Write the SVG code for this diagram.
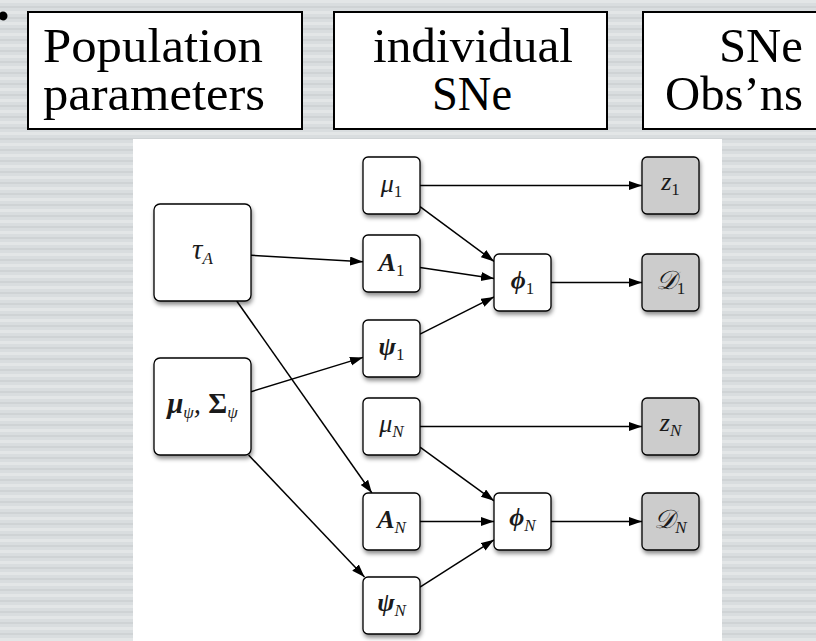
<svg xmlns="http://www.w3.org/2000/svg" width="816" height="641" viewBox="0 0 816 641">
<defs>
<pattern id="stripes" width="816" height="11" patternUnits="userSpaceOnUse">
<rect width="816" height="11" fill="#d9dddf"/>
<rect y="0" width="816" height="3" fill="#e3e6e7"/>
<rect y="6" width="816" height="2" fill="#cfd3d5"/>
</pattern>
<filter id="sh" x="-20%" y="-20%" width="150%" height="150%">
<feDropShadow dx="1" dy="3" stdDeviation="2" flood-color="#000" flood-opacity="0.45"/>
</filter>
<marker id="ah" markerUnits="userSpaceOnUse" markerWidth="14" markerHeight="10" refX="13" refY="4.5" orient="auto">
<path d="M0,0 L13,4.5 L0,9 z" fill="#000"/>
</marker>
</defs>
<style>
.hdr{fill:#fff;stroke:#000;stroke-width:2}
.ht{font-family:'Liberation Serif','Times New Roman',serif;font-size:48px;fill:#000}
.n{fill:#fff;stroke:#000;stroke-width:1.3;filter:url(#sh)}
.o{fill:#cccccc;stroke:#000;stroke-width:1.3;filter:url(#sh)}
.m{font-family:'Liberation Serif','Times New Roman',serif;font-size:26px;font-style:italic;fill:#1a1a1a;text-anchor:middle}
.big{font-size:29px}
.b{font-weight:bold}
.s{font-size:17px;font-style:italic}
.sr{font-size:17px;font-style:normal}
.e{stroke:#000;stroke-width:1.5;fill:none;marker-end:url(#ah)}
</style>
<rect width="816" height="641" fill="url(#stripes)"/>
<circle cx="3" cy="16" r="4.5" fill="#000"/>

<g id="header-population">
<rect class="hdr" x="28" y="12" width="274" height="117"/>
<text class="ht" x="43" y="62" textLength="220" lengthAdjust="spacingAndGlyphs">Population</text>
<text class="ht" x="43" y="110" textLength="222" lengthAdjust="spacingAndGlyphs">parameters</text>
</g>
<g id="header-individual">
<rect class="hdr" x="334" y="12" width="273" height="117"/>
<text class="ht" x="373" y="62" textLength="200" lengthAdjust="spacingAndGlyphs">individual</text>
<text class="ht" x="432" y="110" textLength="80" lengthAdjust="spacingAndGlyphs">SNe</text>
</g>
<g id="header-obs">
<rect class="hdr" x="643" y="12" width="200" height="117"/>
<text class="ht" x="719" y="62" textLength="84" lengthAdjust="spacingAndGlyphs">SNe</text>
<text class="ht" x="665" y="110" textLength="138" lengthAdjust="spacingAndGlyphs">Obs’ns</text>
</g>

<rect x="133" y="139" width="589" height="502" fill="#fff"/>

<g id="connectors">
<line class="e" x1="251" y1="255.3" x2="363" y2="261.8"/>
<line class="e" x1="236.7" y1="301" x2="371.9" y2="493"/>
<line class="e" x1="251" y1="391.7" x2="363" y2="357.4"/>
<line class="e" x1="248.6" y1="455" x2="364.5" y2="577"/>
<line class="e" x1="420" y1="185.5" x2="642" y2="185.5"/>
<line class="e" x1="420" y1="206.6" x2="494" y2="261.4"/>
<line class="e" x1="420" y1="267.6" x2="494" y2="278.4"/>
<line class="e" x1="420" y1="334.1" x2="494" y2="296.9"/>
<line class="e" x1="551" y1="282.5" x2="642" y2="282.5"/>
<line class="e" x1="420" y1="426.5" x2="642" y2="426.5"/>
<line class="e" x1="420" y1="447.2" x2="494" y2="500.8"/>
<line class="e" x1="420" y1="521.5" x2="494" y2="521.5"/>
<line class="e" x1="420" y1="587.2" x2="494" y2="539.8"/>
<line class="e" x1="551" y1="521.5" x2="642" y2="521.5"/>
</g>

<g id="tauA">
<rect class="n" x="154" y="204" width="97" height="97" rx="6"/>
<text class="m big" x="202.5" y="259">τ<tspan class="s" dy="5">A</tspan></text>
</g>
<g id="muSigma">
<rect class="n" x="154" y="358" width="97" height="97" rx="6"/>
<text class="m big" x="202.5" y="413"><tspan class="b">μ</tspan><tspan class="s" dy="5">ψ</tspan><tspan dy="-5">, </tspan><tspan class="b" font-style="normal">Σ</tspan><tspan class="s" dy="5">ψ</tspan></text>
</g>
<g id="mu1">
<rect class="n" x="363" y="157" width="57" height="57" rx="5"/>
<text class="m" x="391.5" y="192">μ<tspan class="sr" dy="5">1</tspan></text>
</g>
<g id="A1">
<rect class="n" x="363" y="235" width="57" height="57" rx="5"/>
<text class="m" x="391.5" y="271"><tspan class="b">A</tspan><tspan class="sr" dy="5">1</tspan></text>
</g>
<g id="psi1">
<rect class="n" x="363" y="320" width="57" height="57" rx="5"/>
<text class="m" x="391.5" y="355"><tspan class="b">ψ</tspan><tspan class="sr" dy="5">1</tspan></text>
</g>
<g id="muN">
<rect class="n" x="363" y="398" width="57" height="57" rx="5"/>
<text class="m" x="391.5" y="432">μ<tspan class="s" dy="5">N</tspan></text>
</g>
<g id="AN">
<rect class="n" x="363" y="493" width="57" height="57" rx="5"/>
<text class="m" x="391.5" y="528"><tspan class="b">A</tspan><tspan class="s" dy="5">N</tspan></text>
</g>
<g id="psiN">
<rect class="n" x="363" y="577" width="57" height="57" rx="5"/>
<text class="m" x="391.5" y="611"><tspan class="b">ψ</tspan><tspan class="s" dy="5">N</tspan></text>
</g>
<g id="phi1">
<rect class="n" x="494" y="254" width="57" height="57" rx="5"/>
<text class="m" x="522.5" y="289"><tspan class="b">ϕ</tspan><tspan class="sr" dy="5">1</tspan></text>
</g>
<g id="phiN">
<rect class="n" x="494" y="493" width="57" height="57" rx="5"/>
<text class="m" x="522.5" y="526"><tspan class="b">ϕ</tspan><tspan class="s" dy="5">N</tspan></text>
</g>
<g id="z1">
<rect class="o" x="642" y="157" width="57" height="57" rx="5"/>
<text class="m" x="670.5" y="190">z<tspan class="sr" dy="5">1</tspan></text>
</g>
<g id="D1">
<rect class="o" x="642" y="254" width="57" height="57" rx="5"/>
<text class="m" x="670.5" y="289">𝒟<tspan class="sr" dy="5">1</tspan></text>
</g>
<g id="zN">
<rect class="o" x="642" y="398" width="57" height="57" rx="5"/>
<text class="m" x="670.5" y="431">z<tspan class="s" dy="5">N</tspan></text>
</g>
<g id="DN">
<rect class="o" x="642" y="493" width="57" height="57" rx="5"/>
<text class="m" x="670.5" y="528">𝒟<tspan class="s" dy="5">N</tspan></text>
</g>
</svg>
